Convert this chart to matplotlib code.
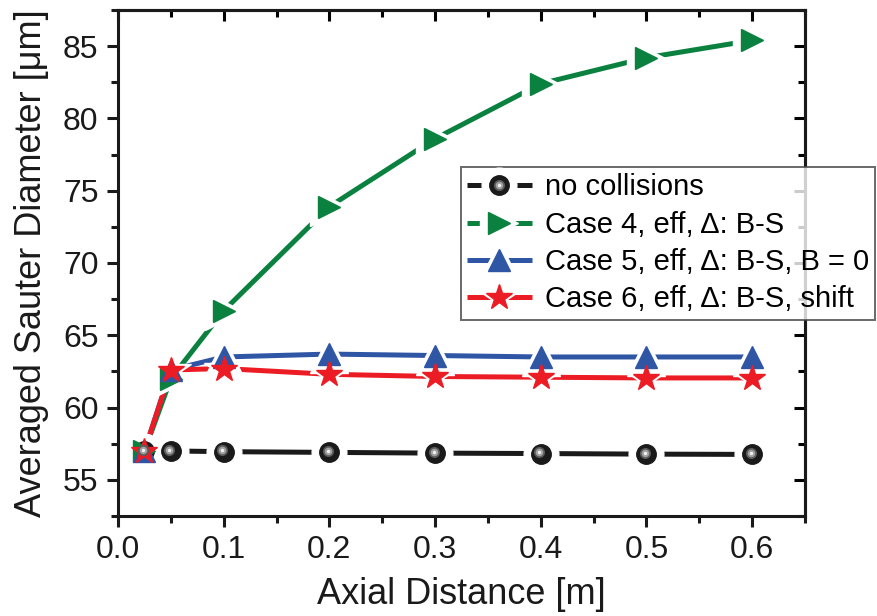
import matplotlib
matplotlib.use('Agg')
import matplotlib.pyplot as plt
from matplotlib.legend_handler import HandlerTuple
from matplotlib.ticker import MultipleLocator
import matplotlib.transforms as mtransforms

plt.rcParams['font.family'] = ['Liberation Sans', 'DejaVu Sans']

# data
x = [0.025, 0.05, 0.1, 0.2, 0.3, 0.4, 0.5, 0.6]
no_coll = [57.0, 57.0, 56.95, 56.9, 56.85, 56.82, 56.78, 56.76]
case4 = [57.0, 62.0, 66.7, 73.9, 78.6, 82.4, 84.2, 85.4]
case5 = [57.0, 62.6, 63.5, 63.7, 63.6, 63.5, 63.5, 63.5]
case6 = [57.0, 62.6, 62.7, 62.3, 62.15, 62.1, 62.05, 62.05]

labels = ['no collisions', 'Case 4, eff, \u0394: B-S',
          'Case 5, eff, \u0394: B-S, B = 0', 'Case 6, eff, \u0394: B-S, shift']
colors = ['#1a1a1a', '#0b8140', '#2f55a5', '#ec1c24']
markers = ['o', '>', '^', '*']
sizes = [14, 16, 16, 19]

fig = plt.figure(figsize=(8.78, 6.16), dpi=100)
ax = fig.add_axes([118 / 878, 1 - 516 / 616, (805 - 118) / 878, (516 - 10) / 616])

handles = []
for i, (y, c, m, s) in enumerate(zip([no_coll, case4, case5, case6], colors, markers, sizes)):
    ln, = ax.plot(x, y, '-', color=c, lw=3.6, zorder=2 + i * 0.01, solid_capstyle='butt')
    halo, = ax.plot(x, y, ls='none', marker=m, ms=s + 11, color='white', mec='white', zorder=3)
    mk, = ax.plot(x, y, ls='none', marker=m, ms=s, color=c, mec=c, zorder=4 + i * 0.01)
    parts = [ln, halo, mk]
    if m == 'o':
        # shaded sphere look
        off = mtransforms.offset_copy(ax.transData, fig=fig, x=-1.0, y=1.0, units='points')
        h1, = ax.plot(x, y, ls='none', marker='o', ms=8, color='#5a5a5a', mec='none',
                      transform=off, zorder=4.5)
        h2, = ax.plot(x, y, ls='none', marker='o', ms=5.5, color='#a0a0a0', mec='none',
                      transform=off, zorder=4.6)
        h3, = ax.plot(x, y, ls='none', marker='o', ms=2.5, color='#f0f0f0', mec='none',
                      transform=off, zorder=4.7)
        parts += [h1, h2, h3]
    handles.append(tuple(parts))

ax.set_xlim(0, 0.65)
ax.set_ylim(52.5, 87.5)
ax.xaxis.set_major_locator(MultipleLocator(0.1))
ax.xaxis.set_minor_locator(MultipleLocator(0.05))
ax.yaxis.set_major_locator(MultipleLocator(5))
ax.yaxis.set_minor_locator(MultipleLocator(2.5))
ax.xaxis.set_major_formatter(matplotlib.ticker.FormatStrFormatter('%.1f'))

for sp in ax.spines.values():
    sp.set_linewidth(2.2)
    sp.set_color('#1a1a1a')
ax.tick_params(which='major', direction='out', length=8, width=2.2, labelsize=23,
               colors='#1a1a1a', pad=6)
ax.tick_params(which='minor', direction='out', length=5, width=2.2, colors='#1a1a1a')

# mirrored ticks pointing inward
top = ax.secondary_xaxis('top')
top.xaxis.set_major_locator(MultipleLocator(0.1))
top.xaxis.set_minor_locator(MultipleLocator(0.05))
top.tick_params(which='major', direction='in', length=8, width=2.2, labeltop=False)
top.tick_params(which='minor', direction='in', length=5, width=2.2)
right = ax.secondary_yaxis('right')
right.yaxis.set_major_locator(MultipleLocator(5))
right.yaxis.set_minor_locator(MultipleLocator(2.5))
right.tick_params(which='major', direction='in', length=8, width=2.2, labelright=False)
right.tick_params(which='minor', direction='in', length=5, width=2.2)
for s in [top, right]:
    for sp in s.spines.values():
        sp.set_linewidth(2.2)

ax.set_xlabel('Axial Distance [m]', fontsize=26, color='#1a1a1a', labelpad=8)
ax.set_ylabel('Averaged Sauter Diameter [\u03bcm]', fontsize=26, color='#1a1a1a', labelpad=10)

leg = fig.legend(handles, labels, loc='upper left', bbox_to_anchor=(461 / 878, 1 - 167 / 616),
                 fontsize=21, frameon=True, fancybox=False, edgecolor='#444444',
                 handler_map={tuple: HandlerTuple(ndivide=1, pad=0)},
                 handlelength=2.2, handletextpad=0.45, labelspacing=0.32,
                 borderpad=0.22, borderaxespad=0)
leg.get_frame().set_linewidth(1.4)

fig.savefig('out.png', dpi=100)
